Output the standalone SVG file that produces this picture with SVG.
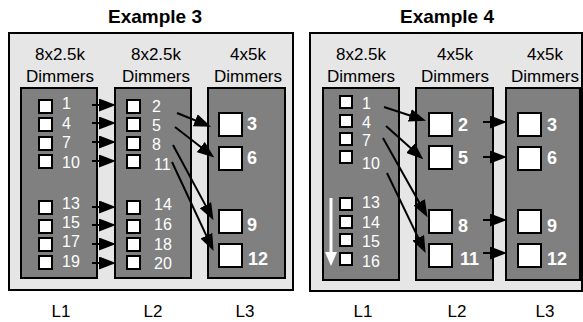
<svg xmlns="http://www.w3.org/2000/svg" width="583" height="322" viewBox="0 0 583 322">
<style>
text{font-family:"Liberation Sans",Arial,sans-serif}
.title{font-size:19px;font-weight:bold;text-anchor:middle;fill:#000}
.hdr{font-size:17px;text-anchor:middle;fill:#000}
.lvl{font-size:17px;text-anchor:middle;fill:#000}
.panel{fill:#e6e6e6;stroke:#000;stroke-width:2}
.col{fill:#808080;stroke:#000;stroke-width:2}
.sq{fill:#fff;stroke:#000;stroke-width:2}
.n{font-size:16px;fill:#fff}
.b{font-size:18px;font-weight:bold;fill:#fff}
.arr{stroke:#000;stroke-width:2;fill:none;marker-end:url(#ah)}
.warr{stroke:#fff;stroke-width:3;fill:none;marker-end:url(#ahw)}
</style>
<defs>
<marker id="ah" markerUnits="userSpaceOnUse" markerWidth="17" markerHeight="13" refX="9" refY="6.5" orient="auto"><path d="M0,0 L17,6.5 L0,13 z" fill="#000"/></marker>
<marker id="ahw" markerUnits="userSpaceOnUse" markerWidth="14" markerHeight="12" refX="6" refY="6" orient="auto"><path d="M0,0 L14,6 L0,12 z" fill="#fff"/></marker>
</defs>
<rect width="583" height="322" fill="#fff"/>

<g id="example3">
<text class="title" x="155" y="23">Example 3</text>
<rect class="panel" x="9" y="33" width="284" height="257"/>
<text class="hdr" x="60" y="60">8x2.5k</text><text class="hdr" x="60" y="82">Dimmers</text>
<text class="hdr" x="156" y="60">8x2.5k</text><text class="hdr" x="156" y="82">Dimmers</text>
<text class="hdr" x="248" y="60">4x5k</text><text class="hdr" x="248" y="82">Dimmers</text>
<text class="lvl" x="61" y="317">L1</text>
<text class="lvl" x="153" y="317">L2</text>
<text class="lvl" x="245" y="317">L3</text>
</g>

<g id="ex3-L1">
<rect class="col" x="21" y="88" width="76" height="190"/>
<rect class="sq" x="39" y="100" width="13" height="13"/><text class="n" x="62" y="109">1</text>
<rect class="sq" x="39" y="118" width="13" height="13"/><text class="n" x="62" y="129">4</text>
<rect class="sq" x="39" y="137" width="13" height="13"/><text class="n" x="62" y="148">7</text>
<rect class="sq" x="39" y="155" width="13" height="13"/><text class="n" x="62" y="168">10</text>
<rect class="sq" x="39" y="201" width="13" height="13"/><text class="n" x="62" y="209">13</text>
<rect class="sq" x="39" y="220" width="13" height="13"/><text class="n" x="62" y="228">15</text>
<rect class="sq" x="39" y="238" width="13" height="13"/><text class="n" x="62" y="247">17</text>
<rect class="sq" x="39" y="256" width="13" height="13"/><text class="n" x="62" y="267">19</text>
</g>

<g id="ex3-L2">
<rect class="col" x="115" y="88" width="76" height="190"/>
<rect class="sq" x="127" y="100" width="13" height="13"/><text class="n" x="152" y="112">2</text>
<rect class="sq" x="127" y="118" width="13" height="13"/><text class="n" x="152" y="131">5</text>
<rect class="sq" x="127" y="137" width="13" height="13"/><text class="n" x="152" y="150">8</text>
<rect class="sq" x="127" y="155" width="13" height="13"/><text class="n" x="154" y="170">11</text>
<rect class="sq" x="127" y="201" width="13" height="13"/><text class="n" x="154" y="210">14</text>
<rect class="sq" x="127" y="220" width="13" height="13"/><text class="n" x="154" y="230">16</text>
<rect class="sq" x="127" y="238" width="13" height="13"/><text class="n" x="154" y="250">18</text>
<rect class="sq" x="127" y="256" width="13" height="13"/><text class="n" x="154" y="269">20</text>
</g>

<g id="ex3-L3">
<rect class="col" x="208" y="88" width="77" height="190"/>
<rect class="sq" x="219" y="113" width="23" height="23"/><text class="b" x="247" y="130">3</text>
<rect class="sq" x="219" y="147" width="23" height="23"/><text class="b" x="247" y="164">6</text>
<rect class="sq" x="219" y="210" width="23" height="23"/><text class="b" x="247" y="231">9</text>
<rect class="sq" x="219" y="244" width="23" height="23"/><text class="b" x="248" y="265">12</text>
</g>

<g id="example4">
<text class="title" x="447" y="23">Example 4</text>
<rect class="panel" x="310" y="33" width="272" height="258"/>
<text class="hdr" x="361" y="60">8x2.5k</text><text class="hdr" x="361" y="82">Dimmers</text>
<text class="hdr" x="455" y="60">4x5k</text><text class="hdr" x="455" y="82">Dimmers</text>
<text class="hdr" x="545" y="60">4x5k</text><text class="hdr" x="545" y="82">Dimmers</text>
<text class="lvl" x="363" y="317">L1</text>
<text class="lvl" x="457" y="317">L2</text>
<text class="lvl" x="545" y="317">L3</text>
</g>

<g id="ex4-L1">
<rect class="col" x="323" y="88" width="76" height="192"/>
<rect class="sq" x="340" y="96" width="12" height="12"/><text class="n" x="362" y="109">1</text>
<rect class="sq" x="340" y="115" width="12" height="12"/><text class="n" x="362" y="128">4</text>
<rect class="sq" x="340" y="133" width="12" height="12"/><text class="n" x="362" y="146">7</text>
<rect class="sq" x="340" y="151" width="12" height="12"/><text class="n" x="362" y="169">10</text>
<rect class="sq" x="340" y="198" width="12" height="12"/><text class="n" x="362" y="208">13</text>
<rect class="sq" x="340" y="216" width="12" height="12"/><text class="n" x="362" y="228">14</text>
<rect class="sq" x="340" y="234" width="12" height="12"/><text class="n" x="362" y="247">15</text>
<rect class="sq" x="340" y="253" width="12" height="12"/><text class="n" x="362" y="267">16</text>
</g>

<g id="ex4-L2">
<rect class="col" x="416" y="88" width="77" height="192"/>
<rect class="sq" x="429" y="113" width="23" height="23"/><text class="b" x="458" y="131">2</text>
<rect class="sq" x="429" y="146" width="23" height="23"/><text class="b" x="458" y="164">5</text>
<rect class="sq" x="429" y="210" width="23" height="23"/><text class="b" x="458" y="232">8</text>
<rect class="sq" x="429" y="244" width="23" height="23"/><text class="b" x="460" y="265">11</text>
</g>

<g id="ex4-L3">
<rect class="col" x="506" y="88" width="74" height="192"/>
<rect class="sq" x="518" y="113" width="23" height="23"/><text class="b" x="547" y="131">3</text>
<rect class="sq" x="518" y="147" width="23" height="23"/><text class="b" x="547" y="164">6</text>
<rect class="sq" x="518" y="210" width="23" height="23"/><text class="b" x="547" y="232">9</text>
<rect class="sq" x="518" y="244" width="23" height="23"/><text class="b" x="547" y="265">12</text>
</g>

<g id="connectors">
<line class="arr" x1="92" y1="105" x2="108" y2="105"/>
<line class="arr" x1="92" y1="123" x2="108" y2="123"/>
<line class="arr" x1="92" y1="142" x2="108" y2="142"/>
<line class="arr" x1="92" y1="161" x2="108" y2="161"/>
<line class="arr" x1="92" y1="207" x2="108" y2="207"/>
<line class="arr" x1="92" y1="225" x2="108" y2="225"/>
<line class="arr" x1="92" y1="244" x2="108" y2="244"/>
<line class="arr" x1="92" y1="263" x2="108" y2="263"/>
<line class="arr" x1="177" y1="113" x2="203.6" y2="123.7"/>
<line class="arr" x1="175" y1="127" x2="207.9" y2="152.5"/>
<line class="arr" x1="173" y1="145" x2="209.7" y2="213.1"/>
<line class="arr" x1="172" y1="162" x2="210.2" y2="243.8"/>
<line class="arr" x1="384" y1="107" x2="418.4" y2="118.2"/>
<line class="arr" x1="386" y1="126" x2="417.3" y2="154"/>
<line class="arr" x1="383" y1="138" x2="423.6" y2="210.2"/>
<line class="arr" x1="387" y1="173" x2="422.1" y2="245.9"/>
<line class="arr" x1="483" y1="122" x2="499" y2="122"/>
<line class="arr" x1="483" y1="157" x2="499" y2="157"/>
<line class="arr" x1="483" y1="220" x2="499" y2="220"/>
<line class="arr" x1="483" y1="253" x2="499" y2="253"/>
<line class="warr" x1="331" y1="198" x2="331" y2="258"/>
</g>
</svg>
